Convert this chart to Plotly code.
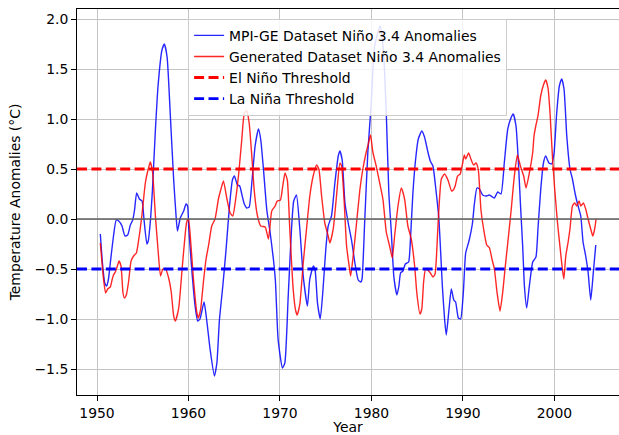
import plotly.graph_objects as go

# ---- data ----
mpi_years = [1950.36, 1950.6, 1950.85, 1951.05, 1951.25, 1951.45, 1951.8, 1952.1, 1952.37, 1952.73,
             1953.05, 1953.35, 1953.64, 1953.9, 1954.1, 1954.33, 1954.63, 1954.92, 1955.14, 1955.45,
             1955.6, 1955.85, 1956.05, 1956.38, 1956.67, 1957.1, 1957.36, 1957.66, 1958.0, 1958.38,
             1958.64, 1958.79, 1959.1, 1959.47, 1959.73, 1959.9, 1960.02, 1960.35, 1960.72, 1961.0,
             1961.25, 1961.7, 1962.0, 1962.37, 1962.83, 1963.1, 1963.38, 1963.75, 1964.1, 1964.48,
             1964.8, 1965.02, 1965.35, 1965.6, 1965.82, 1966.1, 1966.37, 1966.63, 1966.92, 1967.28,
             1967.65, 1967.9, 1968.2, 1968.56, 1968.93, 1969.29, 1969.5, 1969.8, 1970.27, 1970.53,
             1970.9, 1971.26, 1971.5, 1971.8, 1972.17, 1972.54, 1973.0, 1973.26, 1973.65, 1973.85,
             1974.1, 1974.4, 1974.7, 1975.0, 1975.27, 1975.63, 1976.0, 1976.37, 1976.55, 1976.8,
             1977.1, 1977.46, 1977.82, 1978.19, 1978.55, 1978.84, 1978.97, 1979.25, 1979.6, 1979.98,
             1980.34, 1980.96, 1981.32, 1981.62, 1981.9, 1982.17, 1982.45, 1982.78, 1983.0, 1983.18,
             1983.44, 1983.7, 1984.06, 1984.28, 1984.53, 1984.83, 1985.12, 1985.5, 1985.8, 1986.17,
             1986.43, 1986.72, 1987.0, 1987.37, 1987.75, 1988.0, 1988.18, 1988.47, 1988.73, 1989.0,
             1989.2, 1989.5, 1989.75, 1990.04, 1990.3, 1990.66, 1991.03, 1991.25, 1991.53, 1991.8,
             1992.15, 1992.52, 1992.89, 1993.43, 1993.8, 1994.16, 1994.53, 1994.9, 1995.25, 1995.5,
             1995.8, 1996.06, 1996.28, 1996.53, 1996.72, 1996.97, 1997.26, 1997.63, 1997.98, 1998.2,
             1998.5, 1998.8, 1999.05, 1999.4, 1999.7, 1999.96, 2000.25, 2000.54, 2000.8, 2001.05,
             2001.35, 2001.7, 2001.97, 2002.25, 2002.5, 2002.88, 2003.13, 2003.42, 2003.68, 2003.97,
             2004.22, 2004.52]
mpi_anom = [-0.15, -0.45, -0.64, -0.67, -0.60, -0.44, -0.17, -0.01, -0.02, -0.07,
            -0.17, -0.16, -0.06, -0.01, 0.09, 0.26, 0.20, 0.18, -0.01, -0.25,
            -0.22, 0.00, 0.28, 0.89, 1.33, 1.69, 1.75, 1.62, 1.06, 0.39,
            0.03, -0.12, 0.01, 0.08, 0.15, 0.13, -0.08, -0.50, -0.87, -1.02,
            -1.00, -0.83, -1.02, -1.31, -1.57, -1.44, -1.01, -0.67, -0.31, 0.13,
            0.39, 0.43, 0.34, 0.33, 0.25, 0.15, 0.11, 0.12, 0.36, 0.73,
            0.90, 0.79, 0.49, 0.09, -0.14, -0.41, -0.62, -1.21, -1.49, -1.44,
            -0.77, -0.10, 0.18, 0.24, -0.10, -0.57, -0.87, -0.60, -0.47, -0.52,
            -0.84, -1.00, -0.71, -0.31, -0.07, 0.03, 0.36, 0.63, 0.68, 0.59,
            0.16, -0.04, -0.21, -0.44, -0.61, -0.63, -0.60, -0.05, 0.66, 1.16,
            1.73, 1.93, 1.66, 1.06, 0.26, -0.13, -0.58, -0.76, -0.67, -0.54,
            -0.52, -0.45, -0.43, -0.17, 0.26, 0.60, 0.80, 0.88, 0.82, 0.67,
            0.58, 0.53, 0.33, 0.00, -0.67, -1.01, -1.16, -0.91, -0.70, -0.81,
            -0.83, -0.99, -1.00, -0.74, -0.34, -0.22, -0.05, 0.15, 0.31, 0.30,
            0.24, 0.23, 0.24, 0.21, 0.27, 0.25, 0.57, 0.90, 1.01, 1.05,
            0.93, 0.57, 0.16, -0.27, -0.67, -0.89, -0.67, -0.43, -0.38, -0.10,
            0.29, 0.56, 0.63, 0.56, 0.55, 0.66, 1.06, 1.33, 1.40, 1.30,
            0.83, 0.50, 0.40, 0.26, 0.16, 0.03, -0.23, -0.37, -0.53, -0.81,
            -0.57, -0.26]

gen_years = [1950.36, 1950.72, 1950.94, 1951.16, 1951.45, 1951.64, 1951.8, 1952.0, 1952.26, 1952.4,
             1952.62, 1952.84, 1952.99, 1953.2, 1953.46, 1953.72, 1954.0, 1954.3, 1954.55, 1954.92,
             1955.28, 1955.6, 1955.83, 1956.08, 1956.38, 1956.67, 1956.94, 1957.2, 1957.5, 1957.83,
             1958.1, 1958.38, 1958.57, 1958.93, 1959.3, 1959.55, 1959.8, 1960.0, 1960.24, 1960.54,
             1960.9, 1961.08, 1961.33, 1961.63, 1961.92, 1962.18, 1962.54, 1962.9, 1963.27, 1963.52,
             1963.82, 1964.18, 1964.55, 1964.84, 1965.1, 1965.46, 1965.82, 1966.11, 1966.37, 1966.63,
             1966.92, 1967.18, 1967.54, 1967.9, 1968.38, 1968.74, 1969.1, 1969.47, 1969.7, 1970.05,
             1970.3, 1970.55, 1970.8, 1971.07, 1971.44, 1971.7, 1971.88, 1972.17, 1972.54, 1972.9,
             1973.26, 1973.63, 1974.0, 1974.25, 1974.55, 1974.9, 1975.27, 1975.45, 1975.82, 1976.18,
             1976.55, 1976.73, 1977.02, 1977.28, 1977.53, 1977.72, 1978.0, 1978.37, 1978.73, 1979.06,
             1979.43, 1979.68, 1979.9, 1980.15, 1980.52, 1980.88, 1981.25, 1981.62, 1981.98, 1982.28,
             1982.53, 1982.9, 1983.26, 1983.62, 1983.98, 1984.35, 1984.72, 1984.97, 1985.3, 1985.5,
             1985.7, 1985.92, 1986.36, 1986.72, 1986.95, 1987.27, 1987.64, 1988.0, 1988.36, 1988.76,
             1988.95, 1989.15, 1989.42, 1989.7, 1989.97, 1990.15, 1990.3, 1990.62, 1990.87, 1991.17,
             1991.43, 1991.68, 1991.97, 1992.26, 1992.6, 1992.9, 1993.17, 1993.44, 1993.72, 1994.05,
             1994.35, 1994.6, 1994.9, 1995.25, 1995.62, 1995.95, 1996.28, 1996.64, 1996.9, 1997.26,
             1997.63, 1997.77, 1997.96, 1998.2, 1998.5, 1998.8, 1999.05, 1999.3, 1999.52, 1999.78,
             2000.03, 2000.33, 2000.6, 2000.87, 2001.03, 2001.24, 2001.5, 2001.7, 2001.97, 2002.22,
             2002.44, 2002.7, 2002.88, 2003.17, 2003.42, 2003.68, 2003.97, 2004.19, 2004.4, 2004.55]
gen_anom = [-0.24, -0.61, -0.74, -0.70, -0.68, -0.61, -0.56, -0.53, -0.46, -0.42,
            -0.47, -0.74, -0.79, -0.76, -0.62, -0.42, -0.37, -0.34, -0.21, 0.05,
            0.36, 0.50, 0.57, 0.46, 0.03, -0.31, -0.57, -0.50, -0.50, -0.59,
            -0.72, -0.97, -1.02, -0.89, -0.50, -0.24, -0.03, 0.00, -0.23, -0.60,
            -0.93, -0.99, -0.90, -0.63, -0.40, -0.27, -0.07, 0.00, 0.20, 0.29,
            0.38, 0.21, 0.06, 0.03, 0.16, 0.43, 0.79, 1.06, 1.08, 0.96,
            0.63, 0.29, 0.03, -0.07, -0.08, -0.20, 0.08, 0.13, 0.18, 0.19,
            0.33, 0.46, 0.39, -0.10, -0.70, -0.91, -0.96, -0.85, -0.44, -0.10,
            0.23, 0.43, 0.54, 0.50, 0.23, -0.04, -0.17, -0.24, -0.10, 0.23,
            0.56, 0.53, 0.17, -0.27, -0.45, -0.57, -0.37, -0.04, 0.29, 0.50,
            0.67, 0.76, 0.84, 0.67, 0.53, 0.37, 0.20, -0.13, -0.27, -0.39,
            -0.17, 0.13, 0.31, 0.20, -0.07, -0.20, -0.47, -0.75, -0.95, -0.90,
            -0.63, -0.50, -0.53, -0.58, -0.55, -0.07, 0.40, 0.45, 0.39, 0.28,
            0.29, 0.33, 0.43, 0.45, 0.56, 0.64, 0.60, 0.66, 0.60, 0.54,
            0.56, 0.49, 0.09, -0.10, -0.26, -0.29, -0.40, -0.50, -0.73, -0.92,
            -0.73, -0.50, -0.24, 0.07, 0.43, 0.64, 0.53, 0.43, 0.31, 0.46,
            0.67, 0.83, 0.93, 1.03, 1.23, 1.34, 1.39, 1.31, 1.06, 0.63,
            0.30, -0.03, -0.27, -0.50, -0.60, -0.37, -0.23, -0.10, 0.13, 0.16,
            0.13, 0.18, 0.13, 0.16, 0.10, 0.00, -0.10, -0.17, -0.10, 0.00]

el_nino_threshold = 0.5
la_nina_threshold = -0.5
x_ticks = [1950, 1960, 1970, 1980, 1990, 2000]
y_ticks = [-1.5, -1.0, -0.5, 0.0, 0.5, 1.0, 1.5, 2.0]

FONT = "DejaVu Sans"
FS = 13.9
DASH = "10px,4.4px"

fig = go.Figure()
fig.add_trace(go.Scatter(x=mpi_years, y=mpi_anom, mode="lines",
                         name="MPI-GE Dataset Niño 3.4 Anomalies",
                         line=dict(color="rgba(0,0,255,0.85)", width=1.4,
                                   shape="spline", smoothing=0.5)))
fig.add_trace(go.Scatter(x=gen_years, y=gen_anom, mode="lines",
                         name="Generated Dataset Niño 3.4 Anomalies",
                         line=dict(color="rgba(255,0,0,0.85)", width=1.4,
                                   shape="spline", smoothing=0.5)))
# legend entries for threshold lines (drawn as shapes spanning the axis)
fig.add_trace(go.Scatter(x=[None], y=[None], mode="lines", name="El Niño Threshold",
                         line=dict(color="red", width=2.8, dash=DASH)))
fig.add_trace(go.Scatter(x=[None], y=[None], mode="lines", name="La Niña Threshold",
                         line=dict(color="blue", width=2.8, dash=DASH)))

fig.add_shape(type="line", xref="paper", x0=0, x1=1, yref="y",
              y0=0, y1=0, line=dict(color="rgb(95,95,95)", width=1.4), layer="above")
fig.add_shape(type="line", xref="paper", x0=0, x1=1, yref="y",
              y0=el_nino_threshold, y1=el_nino_threshold,
              line=dict(color="red", width=2.8, dash=DASH), layer="above")
fig.add_shape(type="line", xref="paper", x0=0, x1=1, yref="y",
              y0=la_nina_threshold, y1=la_nina_threshold,
              line=dict(color="blue", width=2.8, dash=DASH), layer="above")

axis_common = dict(showgrid=True, gridcolor="#c4c4c4", gridwidth=0.9, zeroline=False,
                   showline=True, linecolor="black", linewidth=1,
                   ticks="outside", ticklen=5, tickwidth=1, tickcolor="black",
                   tickfont=dict(family=FONT, size=FS, color="black"))

fig.update_layout(
    width=619, height=435,
    margin=dict(l=77, r=0, t=9, b=40),
    paper_bgcolor="white", plot_bgcolor="white",
    font=dict(family=FONT, size=FS, color="black"),
    xaxis=dict(range=[1947.81, 2007.06], tickvals=x_ticks, mirror=True,
               title=dict(text="Year", font=dict(family=FONT, size=FS), standoff=6),
               **axis_common),
    yaxis=dict(range=[-1.76, 2.10], tickvals=y_ticks, tickformat=".1f",
               title=dict(text="Temperature Anomalies (°C)", font=dict(family=FONT, size=FS), standoff=10),
               **axis_common),
    legend=dict(x=0.205, y=0.9745, xanchor="left", yanchor="top",
                bgcolor="rgba(255,255,255,0.85)", bordercolor="#cccccc", borderwidth=1,
                font=dict(family=FONT, size=FS, color="black"),
                tracegroupgap=0, itemwidth=30),
    showlegend=True,
)

fig.write_html("out.html", config={"displayModeBar": False},
               post_script="document.body.style.margin='0';document.body.style.overflow='hidden';")
